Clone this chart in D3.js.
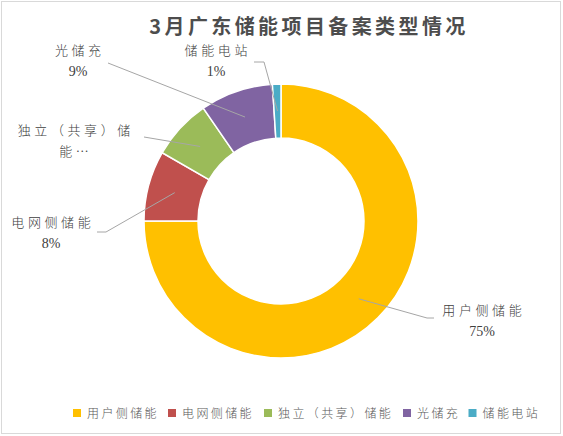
<!DOCTYPE html>
<html><head><meta charset="utf-8">
<script src="https://cdn.jsdelivr.net/npm/d3@7"></script>
<style>body{margin:0;background:#fff}svg{display:block}</style>
</head><body>
<script>
const categories = ["用户侧储能","电网侧储能","独立（共享）储能","光储充","储能电站"];
const values = [75, 8.3, 7.1, 8.6, 1.0];
const pctLabels = ["75%","8%","7%","9%","1%"];
const colors = ["#FFC000","#C0504D","#9BBB59","#8064A2","#4BACC6"];
const title = "3月广东储能项目备案类型情况";

const W=563,H=436, cx=281, cy=221, R=137, r=83;
const svg=d3.select("body").append("svg").attr("width",W).attr("height",H);
svg.append("rect").attr("x",1.5).attr("y",1.5).attr("width",559).attr("height",432)
  .attr("fill","#fff").attr("stroke","#d9d9d9").attr("stroke-width",1);

svg.append("text").attr("x",309).attr("y",34).attr("text-anchor","middle")
  .attr("font-family","Noto Sans CJK SC").attr("font-weight","bold").attr("font-size",20)
  .attr("letter-spacing",3.4).attr("fill","#4d4d4d").text(title);

const data = categories.map((c,i)=>({c,v:values[i],p:pctLabels[i],col:colors[i]}));
const pie=d3.pie().value(d=>d.v).sort(null);
const arcs=pie(data);
const arc=d3.arc().innerRadius(r).outerRadius(R);
const mid=d3.arc().innerRadius((r+R)/2).outerRadius((r+R)/2);
const g=svg.append("g").attr("transform",`translate(${cx},${cy})`);
g.selectAll("path").data(arcs).join("path").attr("d",arc)
  .attr("fill",d=>d.data.col).attr("stroke","#fff").attr("stroke-width",1.5);

const labelLayout = [
  {lines:["用户侧储能","75%"], x:482, y:315, pts:[[427,318],[434,318]]},
  {lines:["电网侧储能","8%"], x:51, y:227, pts:[[106,232],[97,232]]},
  {lines:["独立（共享）储","能…"], x:74, y:135, pts:[[144,137]]},
  {lines:["光储充","9%"], x:78, y:55, pts:[[108,63]]},
  {lines:["储能电站","1%"], x:216, y:55, pts:[[264,62],[254,62]]}
];
const lg=svg.append("g");
arcs.forEach((a,i)=>{
  const L=labelLayout[i];
  const c=mid.centroid(a);
  const p=[[c[0]+cx,c[1]+cy],...L.pts];
  lg.append("path").attr("d",d3.line()(p)).attr("fill","none")
    .attr("stroke","#a6a6a6").attr("stroke-width",1);
  const t=lg.append("text").attr("text-anchor","middle").attr("fill","#404040");
  L.lines.forEach((s,j)=>{
    const isNum=/%$/.test(s);
    t.append("tspan").attr("x",L.x + (isNum?0:1.8)).attr("y",L.y+j*21)
      .attr("font-size",isNum?14:13)
      .attr("font-family",isNum?"Liberation Serif":"Noto Sans CJK SC")
      .attr("font-weight",isNum?"normal":"300")
      .attr("letter-spacing",isNum?0:3.6).text(s);
  });
});

const legendX=[73,168,264,403,468.5];
const leg=svg.append("g");
data.forEach((d,i)=>{
  leg.append("rect").attr("x",legendX[i]).attr("y",409).attr("width",8).attr("height",8).attr("fill",d.col);
  leg.append("text").attr("x",legendX[i]+14).attr("y",418).attr("font-size",12)
    .attr("font-family","Noto Sans CJK SC").attr("font-weight","300").attr("letter-spacing",2.4)
    .attr("fill","#595959").text(d.c);
});
</script>
</body></html>
